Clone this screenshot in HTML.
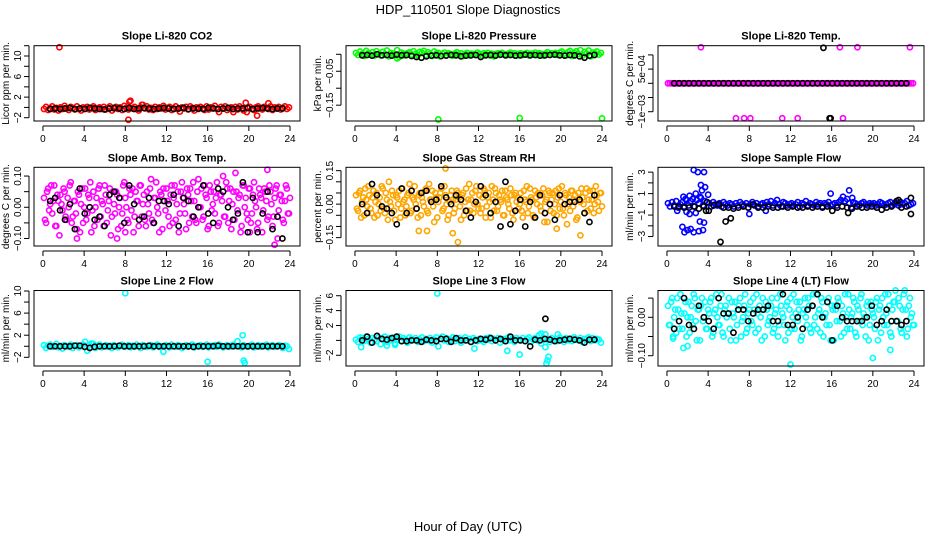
<!DOCTYPE html>
<html><head><meta charset="utf-8"><style>
html,body{margin:0;padding:0;background:#fff;}
svg{display:block;font-family:"Liberation Sans",Arial,sans-serif;}
</style></head><body>
<svg id="chart" width="936" height="540" viewBox="0 0 936 540">
<text x="468" y="14" text-anchor="middle" font-size="13">HDP_110501  Slope Diagnostics</text>
<text x="468" y="531" text-anchor="middle" font-size="13">Hour of Day (UTC)</text>
</svg>
<script>
const xTicks = [0,4,8,12,16,20,24];
const co2Vals = [-0.3,0.1,-0.5,-0.2,0.2,-0.4,-0.1,-0.6,0.0,-0.3,0.3,-0.2,-0.5,0.1,-0.1,-0.4,0.2,-0.3,-0.6,0.0,-0.2,0.1,-0.4,-0.1,0.2,-0.5,-0.2,0.0,-0.3,0.1,-0.4,-0.1,0.2,-0.6,-0.2,0.1,-0.3,0.0,-0.5,0.3,-0.1,-0.4,1.3,-0.2,0.1,-0.3,-0.6,0.0,0.5,-0.2,0.2,-0.4,-0.1,-0.5,0.1,-0.3,0.0,-0.2,0.3,-0.4,-0.1,0.1,-0.5,-0.2,0.2,-0.3,-0.8,0.0,-0.2,0.1,-0.4,0.2,-0.1,-0.6,0.0,-0.3,0.1,-0.2,-0.5,0.2,-0.4,0.0,-0.1,0.3,-0.3,-0.9,0.1,-0.2,0.2,-0.5,-0.1,0.0,-0.3,0.1,-0.4,0.2,-0.2,-0.6,0.9,-0.1,0.1,-0.3,-0.5,0.0,0.2,-0.2,-0.4,0.1,-0.1,-0.3,0.2,-0.5,0.0,-0.2,0.1,-0.4,-0.1,0.2,-0.3,0.0];
const co2Out = [[1.6,11.7],[8.3,-2.4],[8.4,1.1],[9.6,0.5],[18.5,-0.9],[20.8,-1.6],[19.8,-0.9],[21.9,0.8]];
const co2Black = [-0.3,-0.2,-0.3,-0.2,-0.1,-0.3,-0.2,-0.3,-0.1,-0.2,-0.3,-0.4,-0.2,-0.1,-0.2,-0.3,-0.1,-0.3,-0.2,-0.1,-0.2,-0.3,-0.2,-0.1,-0.2,-0.3,-0.2,-0.1,-0.3,-0.2,-0.2,-0.3,-0.1,-0.2,-0.3,-0.2,-0.1,-0.3,-0.2,-0.2,-0.1,-0.3,-0.2,-0.1,-0.2,-0.3,-0.2,-0.2];
const presVals = [0.004,-0.002,0.008,0.001,-0.005,0.010,0.003,-0.001,0.006,-0.004,0.009,0.002,-0.003,0.007,0.000,0.011,-0.006,0.004,0.001,-0.002,0.012,-0.008,0.005,0.002,-0.004,0.003,0.006,-0.001,0.009,0.001,-0.003,0.007,0.004,0.010,-0.002,0.006,0.001,-0.005,0.008,0.002,0.004,-0.006,0.001,0.005,-0.002,0.003,0.000,-0.004,0.002,0.006,-0.001,0.003,-0.005,0.001,0.004,-0.003,0.002,0.000,-0.002,0.005,0.001,-0.004,0.003,0.000,0.004,-0.003,0.002,-0.006,0.001,0.003,-0.002,0.004,0.000,-0.003,0.002,0.005,-0.001,0.003,-0.004,0.001,0.003,-0.002,0.001,0.004,-0.003,0.002,0.000,0.005,-0.002,0.003,0.001,-0.004,0.002,0.006,-0.001,0.003,0.000,0.004,-0.002,0.005,0.008,0.002,-0.003,0.006,0.010,-0.005,0.004,0.009,0.001,0.012,-0.004,0.007,0.002,0.011,-0.006,0.005,0.003,0.008,-0.001,0.004];
const presOut = [[8.1,-0.192],[16.0,-0.188],[24.0,-0.189],[4.1,-0.012]];
const presBlack = [-0.003,-0.002,-0.004,0.000,-0.003,-0.002,-0.004,-0.001,-0.003,-0.002,-0.005,-0.008,-0.010,-0.006,-0.004,-0.003,-0.005,-0.004,-0.002,-0.003,-0.006,-0.004,-0.003,-0.002,-0.008,-0.003,-0.002,-0.004,-0.001,-0.003,-0.002,-0.004,-0.003,-0.001,-0.003,-0.002,-0.004,-0.003,-0.002,-0.001,-0.003,-0.004,-0.002,-0.003,-0.006,-0.010,-0.004,-0.002];
const tempVals = [0,0,0,0,0,0,0,0,0,0,0,0,0,0,0,0,0,0,0,0,0,0,0,0,0,0,0,0,0,0,0,0,0,0,0,0,0,0,0,0,0,0,0,0,0,0,0,0,0,0,0,0,0,0,0,0,0,0,0,0,0,0,0,0,0,0,0,0,0,0,0,0,0,0,0,0,0,0,0,0,0,0,0,0,0,0,0,0,0,0,0,0,0,0,0,0,0,0,0,0,0,0,0,0,0,0,0,0,0,0,0,0,0,0,0,0,0,0,0,0];
const tempOut = [[3.3,1.27e-3],[16.8,1.27e-3],[18.5,1.27e-3],[23.6,1.27e-3],[6.7,-1.23e-3],[7.5,-1.23e-3],[8.1,-1.23e-3],[11.2,-1.23e-3],[12.7,-1.23e-3],[17.1,-1.23e-3]];
const tempBlack = [0,0,0,0,0,0,0,0,0,0,0,0,0,0,0,0,0,0,0,0,0,0,0,0,0,0,0,0,0,0,0,0,0,0,0,0,0,0,0,0,0,0,0,0,0,0,0,0];
const tempBlackOut = [[15.2,1.25e-3],[15.8,-1.23e-3],[15.9,-1.23e-3]];
const ambA = [0.03,-0.05,0.06,0.01,-0.02,0.07,-0.06,0.02,0.04,-0.01,0.05,-0.04,0.00,0.08,-0.03,0.02,-0.07,0.04,0.01,-0.05,0.06,-0.02,0.03,-0.08,0.05,0.00,-0.04,0.07,0.02,-0.06,0.04,-0.01,0.06,-0.03,0.01,0.05,-0.07,0.03,-0.02,0.08,0.00,-0.05,0.04,0.06,-0.03,0.02,-0.06,0.07,0.01,-0.04,0.05,-0.02,0.09,-0.05,0.03,0.00,-0.08,0.04,0.06,-0.01,0.02,-0.06,0.07,0.03,-0.04,0.05,-0.02,0.08,0.01,-0.07,0.04,0.06,-0.03,0.02,-0.05,0.09,0.00,-0.04,0.07,0.03,-0.06,0.05,0.01,-0.02,0.08,-0.05,0.04,0.10,-0.03,0.06,0.02,-0.07,0.05,0.11,-0.01,0.04,-0.06,0.07,0.03,-0.04,0.06,-0.02,0.08,0.00,-0.05,0.04,-0.08,0.06,0.02,-0.03,0.05,-0.06,0.03,0.07,-0.01,0.04,-0.04,0.02,0.06,-0.02];
const ambB = [-0.04,0.05,-0.01,0.07,0.02,-0.06,0.04,-0.09,0.01,0.06,-0.03,0.03,0.07,-0.05,0.02,-0.02,0.05,-0.08,0.06,0.00,-0.04,0.04,0.08,-0.01,-0.06,0.03,0.06,-0.03,0.01,0.07,-0.05,0.02,-0.09,0.05,-0.02,0.04,0.00,-0.06,0.07,0.03,-0.04,0.06,-0.01,-0.08,0.05,0.02,0.07,-0.03,0.04,-0.06,0.01,0.06,-0.04,0.03,0.08,-0.02,0.05,-0.07,0.02,0.06,-0.03,0.04,-0.05,0.07,0.01,-0.08,0.05,0.03,-0.02,0.06,-0.05,0.02,0.08,-0.04,0.05,0.00,0.06,-0.03,0.04,-0.07,0.07,-0.01,0.05,0.03,-0.06,0.04,0.02,-0.03,0.08,-0.05,0.06,0.01,-0.04,0.05,0.03,-0.08,0.07,0.00,-0.02,0.06,-0.05,0.04,0.02,-0.07,0.06,0.03,-0.01,0.05,-0.04,0.07,0.01,-0.03,0.06,-0.10,0.04,0.02,-0.05,0.07,-0.02,0.03];
const ambOut = [[3.3,-0.10],[7.2,-0.10],[8.0,-0.08],[21.8,0.12],[22.5,-0.12],[20.1,-0.08]];
const ambBlack = [0.02,0.03,-0.01,-0.04,0.01,-0.07,0.06,-0.02,0.00,-0.04,-0.03,-0.06,0.04,0.05,0.03,-0.05,0.07,0.01,-0.04,-0.03,0.03,-0.05,0.02,0.02,0.01,0.04,-0.06,0.03,0.02,-0.03,0.00,0.07,-0.02,-0.05,0.06,0.05,0.00,-0.04,-0.02,0.08,-0.08,0.03,-0.08,-0.02,0.05,-0.07,-0.03,-0.10];
const rhA = [0.04,-0.03,0.06,0.01,-0.05,0.02,0.08,-0.02,0.03,-0.06,0.05,0.00,-0.03,0.07,-0.04,0.02,0.10,-0.01,0.04,-0.07,0.03,0.06,-0.02,0.01,-0.05,0.04,0.09,-0.03,0.02,0.00,-0.06,0.05,0.03,-0.01,0.07,-0.04,0.02,0.06,-0.08,0.03,0.01,0.05,-0.03,0.08,0.00,-0.05,0.04,0.02,-0.02,0.06,0.03,-0.07,0.05,0.01,-0.03,0.09,0.02,-0.04,0.06,0.00,0.04,-0.02,0.07,-0.06,0.03,0.01,0.08,-0.03,0.05,-0.01,0.02,0.06,-0.05,0.03,0.00,0.07,-0.04,0.04,0.01,-0.02,0.05,-0.06,0.02,0.08,-0.01,0.03,-0.05,0.06,0.00,0.04,-0.03,0.07,0.01,-0.08,0.05,0.02,-0.04,0.06,0.03,-0.02,0.08,-0.05,0.04,0.00,-0.03,0.06,0.02,-0.07,0.05,0.01,0.03,-0.04,0.07,0.02,-0.02,0.06,0.00,0.04,-0.03,0.05];
const rhB = [-0.02,0.05,-0.06,0.03,0.07,-0.01,0.04,-0.04,0.06,0.01,-0.05,0.03,0.08,-0.02,0.05,-0.07,0.01,0.06,-0.03,0.04,0.00,-0.06,0.07,0.02,-0.01,0.05,-0.04,0.03,0.08,-0.02,0.04,-0.05,0.01,0.06,-0.03,0.09,0.02,-0.01,0.05,-0.06,0.03,0.07,-0.02,0.04,-0.07,0.01,0.06,-0.04,0.02,0.05,-0.01,0.04,-0.05,0.07,0.02,-0.03,0.05,0.00,0.08,-0.02,-0.04,0.03,0.06,-0.01,0.05,-0.06,0.02,0.07,-0.03,0.04,0.01,-0.05,0.06,0.02,-0.02,0.04,-0.07,0.05,0.03,0.00,-0.03,0.06,0.01,-0.04,0.07,0.02,-0.06,0.03,0.05,-0.01,0.04,-0.08,0.02,0.06,-0.03,0.05,0.00,-0.05,0.07,0.01,-0.02,0.05,-0.09,0.03,0.06,-0.01,0.04,-0.06,0.02,0.07,0.00,0.05,-0.03,0.06,0.02,-0.04,0.08,0.01,0.05,-0.01];
const rhOut = [[8.8,0.16],[10.0,-0.17],[7.0,-0.12],[9.5,-0.13],[21.9,-0.14],[19.6,-0.11],[6.2,-0.12]];
const rhBlack = [0.00,-0.04,0.09,0.04,-0.01,-0.02,-0.04,-0.09,0.07,-0.04,0.06,-0.02,0.05,0.06,0.01,0.02,0.08,0.03,0.00,0.04,0.02,-0.03,-0.06,0.01,0.08,0.04,-0.04,0.01,-0.10,0.10,-0.09,-0.03,0.02,-0.10,0.01,-0.06,0.04,-0.04,0.00,-0.07,0.04,0.00,0.01,0.01,0.02,-0.04,-0.08,0.04];
const sampVals = [0.1,-0.2,0.2,-0.1,0.3,-0.3,0.0,0.2,-0.2,0.4,-0.1,0.3,0.5,-0.2,0.4,0.1,0.6,-0.1,0.3,0.2,0.1,-0.2,0.2,0.0,-0.1,0.1,-0.2,0.2,0.0,-0.1,0.1,0.0,-0.2,0.1,-0.1,0.2,0.0,-0.1,0.1,-0.3,0.0,0.2,-0.1,0.1,-0.2,0.0,0.1,-0.1,0.2,0.0,0.3,-0.1,0.1,0.4,0.0,-0.2,0.2,0.1,-0.1,0.0,0.1,-0.1,0.0,0.2,-0.2,0.1,0.0,0.3,-0.1,0.1,0.0,-0.1,0.2,0.0,0.1,-0.2,0.1,0.0,0.2,-0.1,0.0,0.1,-0.1,0.2,0.4,0.7,0.3,0.5,0.1,-0.3,0.2,0.1,0.0,-0.1,0.1,0.2,0.0,-0.1,0.1,0.0,0.1,-0.1,0.0,0.2,0.1,-0.1,0.0,0.1,0.2,-0.1,0.0,0.1,-0.1,0.2,0.0,0.1,0.3,-0.1,0.0,0.1];
const sampOut = [[2.6,3.2],[3.0,3.0],[3.6,3.0],[3.3,1.8],[3.7,1.6],[3.4,1.3],[2.8,1.0],[3.2,0.7],[4.0,0.9],[2.2,0.8],[1.6,0.7],[1.8,0.5],[1.5,-2.1],[2.0,-2.4],[1.7,-2.6],[2.3,-2.3],[2.6,-2.6],[3.1,-2.5],[3.5,-2.4],[3.2,-1.6],[3.6,-1.7],[2.2,-0.9],[1.9,-0.7],[8.0,-0.9],[9.6,-0.6],[15.9,1.0],[17.7,1.3],[18.0,0.6],[1.0,-0.6],[2.8,-0.8]];
const sampBlack = [-0.2,-0.2,-0.3,-0.3,-0.2,-0.4,-0.2,-0.6,-0.1,0.0,-0.3,-0.3,-0.4,-0.3,-0.2,-0.3,0.0,-0.3,-0.3,-0.2,-0.3,-0.3,-0.2,-0.3,-0.2,-0.3,-0.3,-0.2,-0.3,-0.2,-0.3,-0.2,-0.6,-0.3,-0.2,-0.3,-0.4,-0.2,-0.3,-0.3,-0.2,-0.3,-0.5,-0.3,-0.2,0.3,-0.3,-0.2];
const sampBlackOut = [[5.2,-3.5],[5.7,-1.6],[6.2,-1.3],[3.9,0.2],[3.8,-0.6],[23.7,0.6],[23.7,-0.9],[22.5,0.4],[17.6,-0.8]];
const l2Vals = [0.2,-0.3,0.1,0.3,-0.1,0.0,0.4,-0.2,0.1,-0.4,0.2,0.0,-0.1,0.3,-0.3,0.1,0.2,-0.2,0.0,0.3,0.8,-0.8,0.2,0.5,0.4,-0.3,0.1,0.3,-0.2,0.0,0.2,-0.1,0.1,-0.3,0.2,0.0,-0.2,0.1,0.3,-0.1,0.0,0.2,-0.2,0.1,-0.1,0.3,0.0,-0.3,0.2,0.1,-0.1,0.0,0.2,-0.2,0.1,0.3,-0.1,0.0,-1.0,0.2,0.1,-0.2,0.3,0.0,-0.1,0.2,0.1,-0.3,0.0,0.2,-0.1,0.1,0.3,-0.2,0.0,0.1,0.2,-0.1,0.0,0.3,-0.2,0.1,0.0,0.2,-0.1,0.3,0.1,-0.2,0.0,0.2,-0.1,0.1,0.3,0.0,0.9,0.1,-0.2,0.2,0.0,-0.1,0.1,0.3,-0.2,0.0,0.2,-0.1,0.1,0.0,0.3,-0.2,0.1,0.2,-0.1,0.0,0.2,0.1,-0.3,0.1,0.0,-0.5];
const l2Out = [[8.0,9.6],[19.4,2.0],[16.0,-2.8],[19.5,-2.6],[19.6,-3.0]];
const l2Black = [0.0,0.0,0.0,0.0,0.0,0.1,0.1,-0.1,-0.3,-0.1,0.0,0.0,0.0,0.0,0.1,0.0,0.0,0.0,0.0,0.0,0.1,0.0,0.0,0.0,0.0,0.0,0.0,0.0,0.0,-0.1,0.0,0.0,0.0,0.0,0.1,0.0,0.0,0.0,0.0,0.0,0.0,0.0,0.0,0.0,0.0,0.0,0.0,0.0];
const l3Vals = [0.1,-0.2,0.4,0.3,-0.1,0.5,0.2,-0.3,0.3,0.1,-0.1,0.4,-0.5,0.2,0.5,-0.2,0.3,0.0,0.4,-0.4,0.2,0.5,-0.1,0.3,0.1,-0.3,0.4,0.2,0.0,0.3,-0.2,0.1,0.4,-0.1,0.2,0.0,0.3,-0.3,0.1,0.4,-0.8,0.2,0.5,0.0,0.3,-0.2,0.1,0.4,-0.1,0.2,0.3,-0.3,0.1,0.4,0.0,0.2,-0.2,0.3,0.1,-0.1,0.2,0.0,-0.2,0.3,0.1,0.4,-0.1,0.2,0.0,0.3,-0.3,0.1,0.2,-0.1,0.4,0.0,0.2,-0.2,0.3,0.1,0.0,0.3,-0.1,0.2,0.4,-0.2,0.1,0.3,0.0,0.7,-0.4,0.2,0.8,0.1,-0.2,0.3,0.0,0.2,-0.1,0.4,0.1,-0.2,0.3,0.0,0.2,-0.1,0.4,0.1,0.0,0.3,-0.2,0.2,0.1,0.4,-0.1,0.3,0.0,0.2,0.1,-0.3];
const l3Out = [[8.0,6.3],[0.6,-0.9],[3.1,-0.7],[11.6,-1.1],[14.8,-1.4],[16.0,-1.9],[18.5,-0.9],[18.6,-3.1],[18.7,-2.7],[18.8,-2.2],[19.7,0.8],[18.1,0.9],[3.9,-0.6]];
const l3Black = [0.0,0.5,-0.3,0.6,0.2,0.1,0.3,0.5,-0.1,-0.1,0.0,0.0,-0.2,0.1,0.0,-0.1,0.2,0.2,-0.2,0.3,0.0,0.0,-0.2,0.0,0.2,0.1,0.3,0.0,0.2,-0.1,0.5,0.0,0.0,-0.1,-0.8,0.1,0.0,0.2,0.1,-0.1,0.0,0.1,0.2,0.1,0.0,-0.3,0.1,0.1];
const l3BlackOut = [[18.5,2.9]];
const l4A = [0.03,-0.02,0.05,0.00,-0.04,0.02,0.06,-0.03,0.01,-0.05,0.04,0.00,-0.02,0.05,-0.06,0.02,0.03,-0.01,0.04,-0.03,0.01,0.05,-0.04,0.02,0.00,-0.02,0.06,-0.05,0.03,0.01,-0.03,0.04,0.00,-0.06,0.02,0.05,-0.01,0.03,-0.04,0.01,0.04,-0.02,0.02,0.06,-0.03,0.00,0.05,-0.05,0.02,-0.01,0.03,-0.04,0.01,0.05,-0.02,0.03,0.00,-0.06,0.04,0.02,-0.03,0.06,0.01,-0.01,0.04,-0.05,0.02,0.00,0.05,-0.03,0.03,-0.02,0.06,0.01,-0.04,0.04,0.00,-0.02,0.05,-0.06,0.02,0.03,-0.01,0.04,-0.05,0.01,0.06,-0.03,0.02,0.00,0.05,-0.04,0.03,-0.01,0.06,0.01,-0.05,0.04,-0.02,0.02,0.00,0.04,-0.06,0.03,0.05,-0.02,0.01,0.06,-0.04,0.02,0.04,-0.01,0.05,-0.03,0.02,0.07,-0.05,0.03,0.00,-0.02];
const l4B = [-0.02,0.04,-0.05,0.02,0.05,-0.03,0.01,-0.08,0.04,0.00,-0.04,0.03,0.06,-0.01,0.02,-0.06,0.05,0.00,-0.03,0.02,0.04,-0.05,0.01,0.06,-0.02,0.03,-0.04,0.02,0.00,0.05,-0.06,0.01,0.04,-0.02,0.03,-0.05,0.00,0.06,-0.03,0.02,-0.01,0.05,-0.04,0.01,0.03,-0.06,0.02,0.04,-0.02,0.00,0.05,-0.03,0.02,-0.05,0.06,0.01,-0.02,0.03,-0.04,0.05,0.00,-0.03,0.04,0.02,-0.06,0.01,0.05,-0.02,0.03,-0.04,0.06,0.00,-0.03,0.02,0.05,-0.05,0.01,0.04,-0.02,0.03,-0.06,0.02,0.05,-0.01,0.03,-0.04,0.00,0.06,-0.03,0.01,0.04,-0.05,0.02,0.05,-0.02,0.00,0.03,-0.06,0.04,0.01,-0.03,0.05,0.02,-0.04,0.00,0.06,-0.02,0.03,-0.05,0.04,0.07,-0.01,0.03,-0.04,0.06,0.02,-0.03,0.05,0.01,-0.02];
const l4Out = [[12.0,-0.123],[20.0,-0.106],[2.0,-0.075],[21.7,-0.085],[0.6,-0.055]];
const l4Black = [-0.03,-0.01,0.05,-0.02,-0.03,0.03,0.00,-0.01,-0.03,0.05,0.01,0.01,-0.04,0.02,0.02,-0.01,0.01,0.02,0.02,0.03,-0.01,-0.01,0.06,-0.02,-0.02,0.00,-0.03,0.02,0.03,0.06,0.00,0.04,-0.06,0.03,0.00,-0.01,-0.01,-0.01,-0.01,0.00,0.03,-0.02,-0.01,0.02,-0.01,-0.01,-0.02,-0.01];

const NS = 'http://www.w3.org/2000/svg';
const svg = document.getElementById('chart');
function mk(tag, attrs, parent){const e=document.createElementNS(NS,tag);for(const k in attrs)e.setAttribute(k,attrs[k]);(parent||svg).appendChild(e);return e;}

const panels = [
 {id:'co2',title:'Slope Li-820 CO2',ylab:'Licor ppm per min.',col:0,row:0,dom:[-2.64,12.0],ticks:[-2,0,2,4,6,8,10,12],labels:[[-2,'\u22122'],[2,'2'],[6,'6'],[10,'10']],color:'#ff0000',series:[co2Vals],out:co2Out,black:co2Black,bout:[]},
 {id:'pressure',title:'Slope Li-820 Pressure',ylab:'kPa per min.',col:1,row:0,dom:[-0.1966,0.0253],ticks:[-0.15,-0.10,-0.05,0],labels:[[-0.15,'\u22120.15'],[-0.05,'\u22120.05']],color:'#00ff00',series:[presVals],out:presOut,black:presBlack,bout:[]},
 {id:'temp',title:'Slope Li-820 Temp.',ylab:'degrees C per min.',col:2,row:0,dom:[-1.327e-3,1.324e-3],ticks:[-1e-3,-5e-4,0,5e-4,1e-3],labels:[[-1e-3,'\u22121e\u221203'],[5e-4,'5e\u221204']],color:'#ff00ff',series:[tempVals],out:tempOut,black:tempBlack,bout:tempBlackOut},
 {id:'amb',title:'Slope Amb. Box Temp.',ylab:'degrees C per min.',col:0,row:1,dom:[-0.124,0.128],ticks:[-0.10,-0.05,0,0.05,0.10],labels:[[-0.10,'\u22120.10'],[0,'0.00'],[0.10,'0.10']],color:'#ff00ff',series:[ambA,ambB],out:ambOut,black:ambBlack,bout:[]},
 {id:'rh',title:'Slope Gas Stream RH',ylab:'percent per min.',col:1,row:1,dom:[-0.1875,0.165],ticks:[-0.15,-0.10,-0.05,0,0.05,0.10,0.15],labels:[[-0.15,'\u22120.15'],[0,'0.00'],[0.15,'0.15']],color:'#ffa500',series:[rhA,rhB],out:rhOut,black:rhBlack,bout:[]},
 {id:'sample',title:'Slope Sample Flow',ylab:'ml/min per min.',col:2,row:1,dom:[-3.88,3.45],ticks:[-3,-2,-1,0,1,2,3],labels:[[-3,'\u22123'],[-1,'\u22121'],[1,'1'],[3,'3']],color:'#0000ff',series:[sampVals],out:sampOut,black:sampBlack,bout:sampBlackOut},
 {id:'line2',title:'Slope Line 2 Flow',ylab:'ml/min per min.',col:0,row:2,dom:[-3.57,10.09],ticks:[-2,0,2,4,6,8,10],labels:[[-2,'\u22122'],[2,'2'],[6,'6'],[10,'10']],color:'#00ffff',series:[l2Vals],out:l2Out,black:l2Black,bout:[]},
 {id:'line3',title:'Slope Line 3 Flow',ylab:'ml/min per min.',col:1,row:2,dom:[-3.44,6.70],ticks:[-2,0,2,4,6],labels:[[-2,'\u22122'],[2,'2'],[4,'4'],[6,'6']],color:'#00ffff',series:[l3Vals],out:l3Out,black:l3Black,bout:l3BlackOut},
 {id:'line4',title:'Slope Line 4 (LT) Flow',ylab:'ml/min per min.',col:2,row:2,dom:[-0.1268,0.0698],ticks:[-0.10,-0.05,0,0.05],labels:[[-0.10,'\u22120.10'],[0,'0.00']],color:'#00ffff',series:[l4A,l4B],out:l4Out,black:l4Black,bout:[]}
];
const colX = [[34,300],[346,612],[658,924]];
const rowY = [[45.7,121],[167.3,246],[290.5,366]];

panels.forEach(p=>{
  const [L,R]=colX[p.col],[T,B]=rowY[p.row];
  const xs = h => L + (h + 0.87) * (R - L) / 25.84;
  const ys = v => B - (v - p.dom[0]) * (B - T) / (p.dom[1] - p.dom[0]);
  const g = mk('g',{});
  
  
  const t = mk('text',{x:(L+R)/2,y:T-6,'text-anchor':'middle','font-size':11,'font-weight':'bold'},g);
  t.textContent = p.title;
  
  
  const yl = mk('text',{x:0,y:0,'text-anchor':'middle','font-size':10,transform:`translate(${L-25},${(T+B)/2}) rotate(-90)`},g);
  yl.textContent = p.ylab;
  
  
  const pts = mk('g',{fill:'none','stroke-width':1.6},g);
  
  
  p.series.forEach((arr,si)=>{
    arr.forEach((v,i)=>{
      const h = 0.1 + 0.2*i + si*0.1;
      const c = mk('circle',{cx:xs(h),cy:ys(v),r:2.6,stroke:p.color},pts);
      
      
    });
  });
  p.out.forEach(o=>{
    const c = mk('circle',{cx:xs(o[0]),cy:ys(o[1]),r:2.6,stroke:p.color},pts);
    
    
  });
  const bp = mk('g',{fill:'none','stroke-width':1.6,stroke:'#000'},g);
  
  
  p.black.forEach((v,i)=>{
    const c = mk('circle',{cx:xs(0.7+0.48*i),cy:ys(v),r:2.6},bp);
    
    
  });
  p.bout.forEach(o=>{
    const c = mk('circle',{cx:xs(o[0]),cy:ys(o[1]),r:2.6},bp);
    
    
  });
  const box = mk('rect',{x:L,y:T,width:R-L,height:B-T,fill:'none',stroke:'#000','stroke-width':1},g);
  
  
  const ax = mk('g',{stroke:'#000','stroke-width':1},g);
  
  
  mk('line',{x1:xs(0),x2:xs(24),y1:B+5,y2:B+5},ax);
  xTicks.forEach(v=>{
    mk('line',{x1:xs(v),x2:xs(v),y1:B+5,y2:B+10},ax);
    const tl = mk('text',{x:xs(v),y:B+21,'text-anchor':'middle','font-size':10,stroke:'none'},g);
    tl.textContent = v;
    
    
  });
  const yt=p.ticks;
  mk('line',{x1:L-5,x2:L-5,y1:ys(yt[0]),y2:ys(yt[yt.length-1])},ax);
  yt.forEach(v=>{ mk('line',{x1:L-10,x2:L-5,y1:ys(v),y2:ys(v)},ax); });
  p.labels.forEach(lb=>{
    const tl = mk('text',{x:0,y:0,'text-anchor':'middle','font-size':10,transform:`translate(${L-13},${ys(lb[0])}) rotate(-90)`},g);
    tl.textContent = lb[1];
    
    
  });
});
</script>
</body></html>
